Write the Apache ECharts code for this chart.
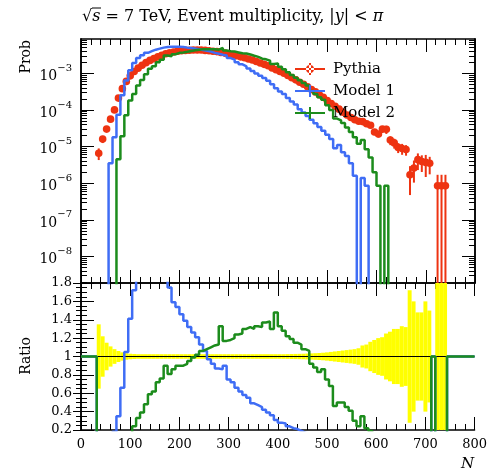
<!DOCTYPE html>
<html><head><meta charset="utf-8">
<script src="https://cdn.jsdelivr.net/npm/echarts@6/dist/echarts.min.js"></script>
<style>html,body{margin:0;padding:0;background:#fff}#c{width:490px;height:475px}</style>
</head><body><div id="c"></div>
<script>
// ---------------- data ----------------
const binWidth = 8;
const firstLowEdge = 32;       // low edge of first listed bin
const xMin = 0, xMax = 800;
const xTickStep = 100;
const probTicks = [1e-8, 1e-7, 1e-6, 1e-5, 1e-4, 1e-3];
const probMin = 1.9e-9, probMax = 8.6e-3;
const ratioMin = 0.2, ratioMax = 1.8, ratioStep = 0.2;
const ratioOutside = 1;        // ratio drawn where Pythia has no entries

const pythia = [
 6.6e-6,1.6e-5,3.0e-5,5.6e-5,1.0e-4,2.1e-4,3.8e-4,6.0e-4,8.5e-4,1.12e-3,
 1.38e-3,1.66e-3,1.95e-3,2.24e-3,2.5e-3,2.8e-3,3.1e-3,3.4e-3,3.6e-3,3.8e-3,
 4.0e-3,4.1e-3,4.2e-3,4.25e-3,4.3e-3,4.3e-3,4.3e-3,4.2e-3,4.1e-3,4.0e-3,
 3.9e-3,3.7e-3,3.55e-3,3.4e-3,3.25e-3,3.0e-3,2.8e-3,2.65e-3,2.45e-3,2.3e-3,
 2.1e-3,1.9e-3,1.75e-3,1.6e-3,1.4e-3,1.25e-3,1.12e-3,1.0e-3,8.7e-4,7.6e-4,
 6.6e-4,5.7e-4,5.0e-4,4.3e-4,3.6e-4,3.1e-4,2.6e-4,2.2e-4,1.8e-4,1.5e-4,
 1.25e-4,1.05e-4,8.7e-5,7.3e-5,6.2e-5,5.4e-5,4.9e-5,4.8e-5,4.2e-5,3.8e-5,
 2.5e-5,2.2e-5,3.0e-5,2.95e-5,1.5e-5,1.26e-5,9.5e-6,8.9e-6,8.3e-6,1.7e-6,
 2.6e-6,4.4e-6,3.9e-6,3.7e-6,3.5e-6,0,8.5e-7,8.5e-7,8.5e-7
];
const pythiaRelErr = [
 0.35,0.22,0.15,0.11,0.08,0.06,0.045,0.035,0.03,0.027,
 0.025,0.025,0.025,0.025,0.025,0.025,0.025,0.025,0.025,0.025,
 0.025,0.025,0.025,0.025,0.025,0.025,0.025,0.025,0.025,0.025,
 0.025,0.025,0.025,0.025,0.025,0.025,0.025,0.025,0.025,0.025,
 0.025,0.025,0.025,0.025,0.025,0.025,0.025,0.025,0.026,0.027,
 0.028,0.029,0.03,0.032,0.034,0.036,0.038,0.041,0.045,0.05,
 0.055,0.06,0.065,0.07,0.075,0.08,0.09,0.12,0.13,0.16,
 0.18,0.2,0.21,0.25,0.27,0.3,0.3,0.33,0.32,0.72,
 0.6,0.48,0.48,0.6,0.5,0,1.0,1.0,1.0
];
const model1 = [
 0,0,0,3.5e-6,1.8e-5,7.4e-5,2.5e-4,6.3e-4,1.2e-3,1.9e-3,
 2.6e-3,3.1e-3,3.6e-3,4.0e-3,4.4e-3,4.7e-3,5.0e-3,5.2e-3,5.3e-3,5.3e-3,
 5.3e-3,5.2e-3,5.0e-3,4.9e-3,4.7e-3,4.5e-3,4.3e-3,4.1e-3,3.9e-3,3.6e-3,
 3.4e-3,3.2e-3,3.05e-3,2.6e-3,2.35e-3,2.0e-3,1.75e-3,1.55e-3,1.35e-3,1.15e-3,
 9.9e-4,8.6e-4,7.4e-4,6.2e-4,5.0e-4,3.9e-4,3.2e-4,2.7e-4,2.1e-4,1.7e-4,
 1.4e-4,1.05e-4,8.5e-5,6.8e-5,5.4e-5,4.3e-5,3.4e-5,2.7e-5,2.1e-5,1.6e-5,
 9.0e-6,1.1e-5,7.0e-6,5.5e-6,3.5e-6,1.6e-6,0,1.4e-6,8.5e-7,0,
 0,0,0,0,0,0,0,0,0,0,
 0,0,0,0,0,0,0,0,0
];
const model2 = [
 0,0,0,0,0,4.5e-6,1.9e-5,7.1e-5,1.8e-4,2.7e-4,
 4.6e-4,6.5e-4,9.4e-4,1.32e-3,1.55e-3,2.0e-3,2.35e-3,3.05e-3,2.9e-3,3.3e-3,
 3.6e-3,3.7e-3,3.85e-3,4.05e-3,4.25e-3,4.4e-3,4.55e-3,4.55e-3,4.5e-3,4.5e-3,
 4.4e-3,4.9e-3,4.15e-3,4.0e-3,3.9e-3,3.7e-3,3.5e-3,3.45e-3,3.25e-3,3.0e-3,
 2.8e-3,2.5e-3,2.4e-3,2.2e-3,1.8e-3,1.85e-3,1.5e-3,1.28e-3,1.06e-3,9.0e-4,
 7.6e-4,6.4e-4,5.4e-4,4.6e-4,3.3e-4,2.7e-4,2.2e-4,1.9e-4,1.35e-4,1.0e-4,
 5.8e-5,5.2e-5,4.4e-5,3.3e-5,2.5e-5,1.8e-5,1.2e-5,1.5e-5,8.5e-6,5.0e-6,
 2.0e-6,8.5e-7,0,8.5e-7,0,0,0,0,0,0,
 0,0,0,0,0,0,0,0,0
];
const ratio1 = [
 0,0,0,0.06,0.18,0.35,0.66,1.05,1.41,1.72,
 1.9,2.1,2.2,2.3,2.3,2.2,2.1,2.0,1.75,1.59,
 1.54,1.46,1.39,1.32,1.26,1.21,1.13,1.06,0.97,0.92,
 0.87,0.86,0.90,0.75,0.72,0.66,0.62,0.58,0.55,0.49,
 0.47,0.45,0.42,0.39,0.36,0.31,0.28,0.27,0.24,0.22,
 0.21,0.19,0.17,0.16,0.15,0.14,0.13,0.12,0.11,0.1,
 0.09,0.08,0.1,0.07,0.07,0.06,0,0.03,0.02,0,
 0,0,0,0,0,0,0,0,0,0,
 0,0,0,0,0,1,0,0,0
];
const ratio2 = [
 0,0,0,0,0,0.02,0.05,0.12,0.15,0.24,
 0.33,0.39,0.48,0.59,0.62,0.72,0.76,0.90,0.81,0.86,
 0.90,0.90,0.92,0.95,0.99,1.02,1.06,1.08,1.10,1.12,
 1.13,1.33,1.17,1.18,1.20,1.24,1.25,1.30,1.32,1.30,
 1.33,1.32,1.37,1.38,1.30,1.48,1.33,1.28,1.22,1.19,
 1.15,1.13,1.08,1.06,0.92,0.88,0.83,0.86,0.75,0.68,
 0.46,0.50,0.50,0.45,0.41,0.30,0.24,0.35,0.22,0.19,
 0.1,0.03,0,0.05,0,0,0,0,0,0,
 0,0,0,0,0,1,0,0,0
];

// ---------------- styling ----------------
const RED = '#EE3311', BLUE = '#3F6DF5', GREEN = '#1C8C1C', YEL = '#FFFF00';
const FONT = 'DejaVu Serif';
const TINY = 1e-30;
const G0 = {left: 81, top: 39, width: 394, height: 244};
const G1 = {left: 81, top: 283, width: 394, height: 147};

const lowEdge = k => firstLowEdge + k * binWidth;
const lastEdge = lowEdge(pythia.length);

function histLine(vals, zeroVal) {
  const pts = [[xMin, zeroVal]];
  vals.forEach((v, k) => pts.push([lowEdge(k), v > 0 ? v : zeroVal]));
  pts.push([lastEdge, zeroVal], [xMax, zeroVal]);
  return pts;
}
function ratioLine(vals) {
  const pts = [[xMin, ratioOutside]];
  vals.forEach((v, k) => pts.push([lowEdge(k), v]));
  pts.push([lastEdge, ratioOutside], [xMax, ratioOutside]);
  return pts;
}
const pythiaData = pythia.map((v, k) => [lowEdge(k), lowEdge(k) + binWidth, v, pythiaRelErr[k]]);
const bandData = pythia.map((v, k) => [lowEdge(k), lowEdge(k) + binWidth, v > 0 ? pythiaRelErr[k] : -1]);

const minorProb = [];
for (let e = -9; e <= -3; e++) for (let m = 2; m <= 9; m++) {
  const v = m * Math.pow(10, e);
  if (v > probMin && v < probMax) minorProb.push(v);
}

const lineSt = {color: '#000', width: 1.5};
function xAx(grid, pos, labels) {
  return {
    type: 'value', gridIndex: grid, position: pos, min: xMin, max: xMax, interval: xTickStep,
    axisLine: {show: true, lineStyle: lineSt},
    axisTick: {show: true, inside: true, length: 13, lineStyle: {color: '#000', width: 1}},
    minorTick: {show: true, splitNumber: 5, length: 6, lineStyle: {color: '#000', width: 1}},
    splitLine: {show: false}, minorSplitLine: {show: false},
    axisLabel: {show: labels, color: '#000', fontFamily: FONT, fontSize: 13, margin: 8},
  };
}
function yLog(pos, values, len, labels) {
  return {
    type: 'log', logBase: 10, gridIndex: 0, position: pos, min: probMin, max: probMax,
    axisLine: {show: true, lineStyle: lineSt},
    axisTick: {show: true, inside: true, length: len, customValues: values, lineStyle: {color: '#000', width: 1}},
    splitLine: {show: false},
    axisLabel: labels ? {
      show: true, customValues: values, margin: 9,
      formatter: v => '{b|10}{s|\u2212' + Math.round(-Math.log10(v)) + '}',
      rich: {
        b: {fontFamily: FONT, fontSize: 14, color: '#000', lineHeight: 20, verticalAlign: 'bottom'},
        s: {fontFamily: FONT, fontSize: 10, color: '#000', lineHeight: 12, verticalAlign: 'top'}
      }
    } : {show: false}
  };
}
function yRatio(pos, labels, major, minor) {
  return {
    type: 'value', gridIndex: 1, position: pos, min: ratioMin, max: ratioMax, interval: ratioStep,
    axisLine: {show: true, lineStyle: lineSt},
    axisTick: {show: true, inside: true, length: major, lineStyle: {color: '#000', width: 1}},
    minorTick: {show: true, splitNumber: 4, length: minor, lineStyle: {color: '#000', width: 1}},
    splitLine: {show: false}, minorSplitLine: {show: false},
    axisLabel: {show: labels, color: '#000', fontFamily: FONT, fontSize: 13, margin: 9,
      formatter: v => String(+v.toFixed(1))}
  };
}

const chart = echarts.init(document.getElementById('c'));
const crossPath = 'path://M0,5H30V7H0Z M14,0H16V12H14Z';
const dotPath = 'path://M0,5H30V7H0Z M14,0H16V12H14Z M11,6A4,4 0 1,0 19,6A4,4 0 1,0 11,6Z';

chart.setOption({
  animation: false,
  grid: [G0, G1],
  xAxis: [xAx(0, 'bottom', false), xAx(0, 'top', false), xAx(1, 'bottom', true), xAx(1, 'top', false)],
  yAxis: [
    yLog('left', probTicks, 13, true), yLog('left', minorProb, 6, false),
    yLog('right', probTicks, 13, false), yLog('right', minorProb, 6, false),
    yRatio('left', true, 13, 6), yRatio('right', false, 8, 5)
  ],
  legend: {
    orient: 'vertical', left: 290, top: 56, itemWidth: 30, itemHeight: 12, itemGap: 6,
    textStyle: {fontFamily: FONT, fontSize: 15, color: '#000', lineHeight: 16, padding: [0, 0, 0, 3]},
    itemStyle: {borderWidth: 0},
    data: [{name: 'Pythia', icon: dotPath}, {name: 'Model 1', icon: crossPath}, {name: 'Model 2', icon: crossPath}]
  },
  series: [
    // ratio panel
    {
      name: 'band', type: 'custom', xAxisIndex: 2, yAxisIndex: 4, clip: true,
      data: bandData, encode: {x: [0, 1], y: 2}, silent: true,
      renderItem(params, api) {
        const e = api.value(2);
        if (e < 0) return;
        const a = api.coord([api.value(0), 1 + e]);
        const b = api.coord([api.value(1), 1 - e]);
        return {type: 'rect', shape: {x: a[0], y: a[1], width: b[0] - a[0], height: b[1] - a[1]},
          style: {fill: YEL, stroke: null}};
      }
    },
    {name: 'unity', type: 'line', xAxisIndex: 2, yAxisIndex: 4, data: [[xMin, 1], [xMax, 1]],
      symbol: 'none', lineStyle: {color: '#000', width: 1}, silent: true},
    {name: 'r1', type: 'line', xAxisIndex: 2, yAxisIndex: 4, step: 'end', data: ratioLine(ratio1),
      symbol: 'none', color: BLUE, lineStyle: {color: BLUE, width: 2.5}, clip: true, silent: true},
    {name: 'r2', type: 'line', xAxisIndex: 2, yAxisIndex: 4, step: 'end', data: ratioLine(ratio2),
      symbol: 'none', color: GREEN, lineStyle: {color: GREEN, width: 2.5}, clip: true, silent: true},
    // main panel
    {
      name: 'Pythia', type: 'custom', xAxisIndex: 0, yAxisIndex: 0, clip: true,
      itemStyle: {color: RED}, color: RED,
      data: pythiaData, encode: {x: [0, 1], y: 2},
      renderItem(params, api) {
        const lo = api.value(0), hi = api.value(1), v = api.value(2), e = api.value(3);
        if (!(v > 0)) return;
        const c = (lo + hi) / 2;
        const p = api.coord([c, v]);
        const pl = api.coord([lo, v]), ph = api.coord([hi, v]);
        const up = api.coord([c, v * (1 + e)]);
        const dv = v * (1 - e);
        const dn = dv > 0 ? api.coord([c, dv])[1] : params.coordSys.y + params.coordSys.height + 5;
        return {type: 'group', children: [
          {type: 'line', shape: {x1: pl[0], y1: pl[1], x2: ph[0], y2: ph[1]}, style: {stroke: RED, lineWidth: 2}},
          {type: 'line', shape: {x1: p[0], y1: up[1], x2: p[0], y2: dn}, style: {stroke: RED, lineWidth: 2}},
          {type: 'circle', shape: {cx: p[0], cy: p[1], r: 3.8}, style: {fill: RED}}
        ]};
      }
    },
    {name: 'Model 1', type: 'line', xAxisIndex: 0, yAxisIndex: 0, step: 'end', data: histLine(model1, TINY),
      symbol: 'none', color: BLUE, itemStyle: {color: BLUE}, lineStyle: {color: BLUE, width: 2.5}, clip: true},
    {name: 'Model 2', type: 'line', xAxisIndex: 0, yAxisIndex: 0, step: 'end', data: histLine(model2, TINY),
      symbol: 'none', color: GREEN, itemStyle: {color: GREEN}, lineStyle: {color: GREEN, width: 2.5}, clip: true}
  ],
  graphic: [
    {type: 'text', x: 82, y: 17, style: {
      text: '\u221A{i|s} = 7 TeV, Event multiplicity, |{i|y}| < {i|\u03C0}',
      font: '16px "' + FONT + '"', fill: '#000', verticalAlign: 'middle',
      rich: {i: {fontFamily: FONT, fontSize: 16, fontStyle: 'italic', fill: '#000'}}
    }},
    {type: 'line', shape: {x1: 92, y1: 8, x2: 101, y2: 8}, style: {stroke: '#000', lineWidth: 1}},
    {type: 'text', x: 26, y: 40, rotation: Math.PI / 2, style: {
      text: 'Prob', font: '14px "' + FONT + '"', fill: '#000', align: 'right', verticalAlign: 'middle'}},
    {type: 'text', x: 26, y: 356, rotation: Math.PI / 2, style: {
      text: 'Ratio', font: '14px "' + FONT + '"', fill: '#000', align: 'center', verticalAlign: 'middle'}},
    {type: 'text', x: 474, y: 464, style: {
      text: 'N', font: 'italic 15px "' + FONT + '"', fill: '#000', align: 'right', verticalAlign: 'middle'}}
  ]
});
</script></body></html>
